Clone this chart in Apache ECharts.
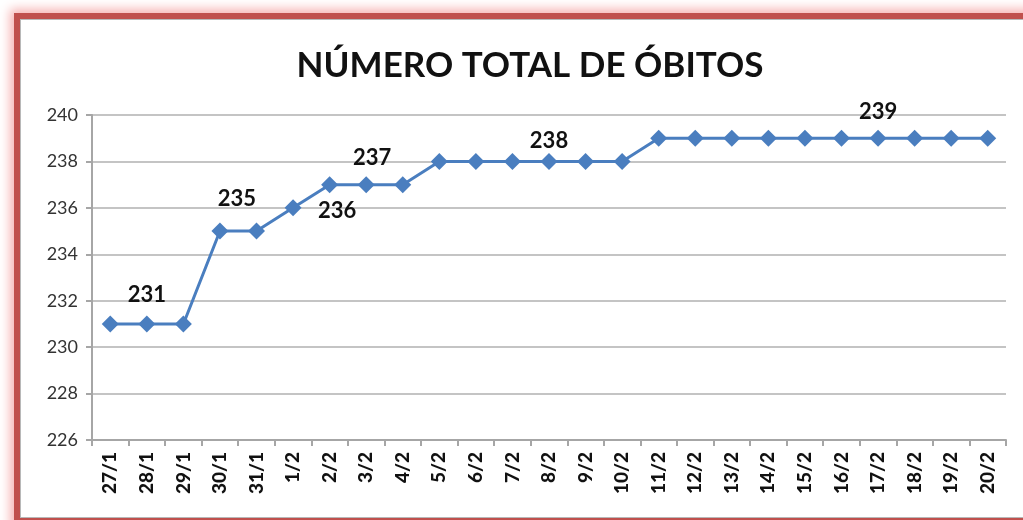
<!DOCTYPE html>
<html>
<head>
<meta charset="utf-8">
<script src="https://cdn.jsdelivr.net/npm/echarts@6/dist/echarts.min.js"></script>
<style>
  html, body { margin: 0; padding: 0; width: 1023px; height: 520px; overflow: hidden; background: #fff; }
  #frame {
    position: absolute; left: 14px; top: 13px; width: 1030px; height: 511px;
    border: 6px solid #c0504d; box-sizing: border-box;
    box-shadow: 0 0 10px 4px #f6b3b3, inset 0 0 0 1px #b8b8b8;
    background: #fff;
  }
  #chart { position: absolute; left: 0; top: 0; width: 1023px; height: 520px; }
</style>
</head>
<body>
<div id="frame"></div>
<div id="chart"></div>
<script>
const titleText = 'NÚMERO TOTAL DE ÓBITOS'
const days = ['27/1', '28/1', '29/1', '30/1', '31/1', '1/2', '2/2', '3/2', '4/2', '5/2',
	'6/2', '7/2', '8/2', '9/2', '10/2', '11/2', '12/2', '13/2', '14/2', '15/2',
	'16/2', '17/2', '18/2', '19/2', '20/2']
const deaths = [231, 231, 231, 235, 235, 236, 237, 237, 237, 238,
	238, 238, 238, 238, 238, 239, 239, 239, 239, 239,
	239, 239, 239, 239, 239]
// which points carry a value label, and where it sits relative to the marker
const labelled = {
	'28/1': [0, -29],
	'30/1': [17, -32],
	'1/2': [44, 3],
	'3/2': [6, -27],
	'8/2': [0, -21],
	'17/2': [0, -26],
}

const chart = echarts.init(document.getElementById('chart'))
window.addEventListener('resize', () => {
	chart.resize()
})

const fontFam = 'Lato, "Open Sans", sans-serif'

chart.setOption({
	backgroundColor: 'transparent',
	animation: false,
	title: {
		text: titleText,
		left: 525,
		top: 43,
		textAlign: 'center',
		textStyle: { fontFamily: fontFam, fontSize: 35, fontWeight: 'bold', color: '#111' },
	},
	grid: { left: 92, right: 17, top: 115, bottom: 80 },
	xAxis: {
		type: 'category',
		data: days,
		boundaryGap: true,
		axisLine: { lineStyle: { color: '#a6a6a6', width: 2 } },
		axisTick: { show: true, length: 6, lineStyle: { color: '#a6a6a6', width: 2 } },
		axisLabel: {
			rotate: 90, interval: 0, margin: 12,
			fontFamily: fontFam, fontSize: 19, fontWeight: 900, color: '#111',
		},
	},
	yAxis: {
		type: 'value',
		min: 226,
		max: 240,
		interval: 2,
		axisLine: { show: true, lineStyle: { color: '#a6a6a6', width: 2 } },
		axisTick: { show: true, length: 6, lineStyle: { color: '#a6a6a6', width: 2 } },
		splitLine: { lineStyle: { color: '#c4c4c4', width: 2 } },
		axisLabel: { fontFamily: fontFam, fontSize: 18, color: '#333', margin: 14 },
	},
	series: [{
		type: 'line',
		data: deaths.map((v, i) => {
			const off = labelled[days[i]]
			if (!off) return v
			return {
				value: v,
				label: {
					show: true, position: 'inside', offset: off,
					fontFamily: fontFam, fontSize: 22, fontWeight: 'bold', color: '#111',
				},
			}
		}),
		symbol: 'diamond',
		symbolSize: 17,
		itemStyle: { color: '#4a7ebf' },
		lineStyle: { color: '#4a7ebf', width: 3 },
		label: { show: false },
	}],
})
</script>
</body>
</html>
